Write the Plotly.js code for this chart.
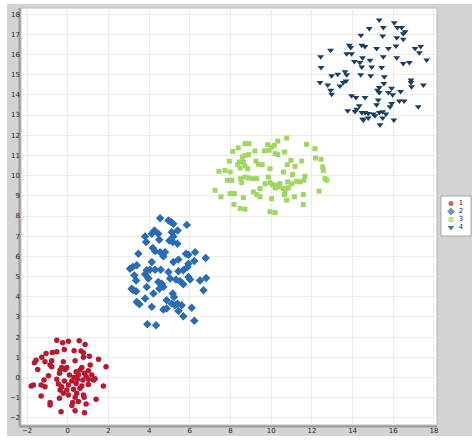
<!DOCTYPE html>
<html>
<head>
<meta charset="utf-8">
<script src="https://cdn.plot.ly/plotly-3.0.1.min.js"></script>
<style>
    html, body { margin: 0; padding: 0; background: #fff; }
    #graf { width: 476px; height: 442px; }
</style>
</head>
<body>
<div id="graf"></div>
<script>
let imena = ["1", "2", "3", "4"];

// skupina 1 - rdeči krogi
let x1 = [-0.54, -0.25, 0.03, 0.56, 0.85, -1.07, -0.76, -0.54, -0.17, 0.31, 0.65, 0.77, 1.06, -1.28, -1.56, -1.64, -1.12, -0.79, -0.22, 0.36, 0.77, 1.51, -0.87, -0.79, -0.30, -0.05, 0.69, 1.10, 1.88, -1.48, -0.38, -0.13, 0.41, 0.60, 1.01, 0.82, -0.95, -0.41, 0.08, 0.31, 0.52, 0.90, 1.18, -1.17, -0.54, -0.17, 0.20, 0.47, 0.74, 1.01, 1.26, 1.34, -1.80, -1.69, -1.31, -1.12, -0.46, -0.30, 0.03, 0.41, 0.69, 1.01, 1.75, -0.38, -0.05, 0.28, 0.60, -0.22, 0.77, 0.44, -1.31, -0.41, 0.03, 0.36, 0.80, 1.39, -0.87, -0.87, 0.24, 0.52, 0.20, 0.90, -0.33, 0.36, 0.82];
let y1 = [1.85, 1.72, 1.80, 1.82, 1.64, 1.19, 1.24, 1.28, 1.39, 1.33, 1.31, 1.23, 1.06, 1.00, 0.86, 0.73, 0.78, 0.83, 0.78, 0.83, 1.00, 0.90, 0.62, 0.54, 0.50, 0.50, 0.50, 0.62, 0.54, 0.40, 0.37, 0.40, 0.29, 0.37, 0.34, 0.21, 0.09, 0.21, 0.12, 0.01, 0.12, 0.07, 0.12, -0.12, -0.09, -0.17, -0.17, -0.09, -0.12, -0.09, -0.12, -0.06, -0.42, -0.37, -0.37, -0.45, -0.32, -0.45, -0.37, -0.29, -0.42, -0.34, -0.42, -0.62, -0.62, -0.58, -0.53, -0.78, -0.86, -0.78, -0.91, -1.03, -0.86, -0.98, -0.98, -1.08, -1.24, -1.36, -1.24, -1.19, -1.39, -1.31, -1.69, -1.65, -1.74];

// skupina 2 - modri karo
let x2 = [4.54, 4.95, 5.08, 5.19, 5.85, 4.26, 4.13, 3.80, 4.45, 5.11, 5.40, 5.19, 3.85, 4.50, 4.99, 5.16, 5.39, 4.18, 4.29, 4.54, 4.78, 3.47, 5.81, 5.93, 6.26, 6.78, 4.70, 5.19, 5.44, 4.13, 6.22, 5.93, 3.06, 3.19, 3.39, 3.88, 4.04, 4.29, 4.57, 4.95, 5.44, 5.68, 5.88, 3.27, 3.80, 3.96, 5.03, 5.32, 5.52, 5.93, 6.01, 6.50, 6.80, 3.36, 3.88, 4.45, 4.62, 4.70, 4.50, 5.68, 3.14, 3.23, 3.36, 4.21, 5.16, 5.22, 6.67, 3.39, 3.52, 3.80, 4.13, 4.86, 5.11, 5.27, 5.39, 5.60, 4.70, 4.86, 6.09, 5.44, 5.68, 6.22, 3.91, 4.34];
let y2 = [7.89, 7.78, 7.70, 7.61, 7.56, 7.28, 7.12, 6.99, 7.12, 7.20, 7.28, 6.99, 6.71, 6.82, 6.78, 6.71, 6.63, 6.41, 6.26, 6.21, 6.21, 6.13, 6.13, 6.08, 6.21, 5.92, 6.00, 5.72, 5.84, 5.72, 5.77, 5.64, 5.39, 5.47, 5.56, 5.31, 5.34, 5.34, 5.34, 5.23, 5.26, 5.31, 5.47, 5.06, 5.11, 4.90, 4.90, 4.85, 4.77, 4.98, 4.85, 4.81, 4.93, 4.81, 4.49, 4.73, 4.65, 4.49, 4.40, 4.62, 4.40, 4.32, 4.27, 4.16, 4.16, 3.99, 4.32, 3.74, 3.63, 3.91, 3.50, 3.83, 3.66, 3.58, 3.66, 3.58, 3.37, 3.42, 3.46, 3.30, 3.04, 2.81, 2.64, 2.59];

// skupina 3 - zeleni kvadrati
let x3 = [8.71, 8.91, 9.83, 10.02, 10.15, 10.32, 10.76, 11.74, 12.15, 8.38, 8.11, 9.20, 9.66, 9.89, 10.19, 10.32, 10.65, 8.71, 8.58, 8.88, 12.18, 12.45, 7.94, 8.43, 8.63, 8.35, 9.25, 9.37, 9.56, 10.97, 11.50, 10.79, 11.17, 8.47, 8.71, 8.84, 9.94, 12.53, 12.56, 7.43, 7.73, 7.98, 10.60, 11.05, 11.66, 12.64, 12.73, 7.84, 8.06, 8.50, 8.71, 8.88, 9.09, 9.29, 9.86, 11.61, 8.55, 9.70, 9.94, 10.06, 10.27, 10.43, 10.81, 11.01, 11.25, 11.42, 7.24, 9.45, 10.19, 10.60, 10.84, 10.68, 10.35, 9.12, 9.29, 9.45, 7.98, 8.19, 7.53, 8.63, 10.02, 10.65, 10.76, 11.14, 11.58, 12.35, 8.17, 8.47, 8.71, 9.94, 10.19, 11.58];
let y3 = [11.58, 11.58, 11.53, 11.41, 11.50, 11.71, 11.86, 11.55, 11.33, 11.37, 11.20, 11.22, 11.22, 11.25, 11.09, 11.04, 11.17, 11.00, 10.92, 11.04, 10.87, 10.81, 10.71, 10.67, 10.67, 10.54, 10.71, 10.56, 10.54, 10.76, 10.72, 10.54, 10.46, 10.38, 10.48, 10.34, 10.34, 10.43, 10.26, 10.21, 10.26, 10.18, 10.18, 10.05, 9.97, 9.85, 9.77, 9.77, 9.77, 9.85, 9.93, 9.88, 9.85, 9.85, 9.93, 9.77, 9.65, 9.60, 9.65, 9.55, 9.52, 9.60, 9.69, 9.60, 9.72, 9.69, 9.27, 9.36, 9.39, 9.36, 9.39, 9.19, 9.44, 9.19, 9.06, 8.95, 9.11, 9.11, 8.95, 8.91, 8.86, 9.06, 8.78, 8.95, 9.06, 9.23, 8.57, 8.37, 8.34, 8.21, 8.17, 8.57];

// skupina 4 - temno modri trikotniki
let x4 = [15.31, 16.05, 15.51, 16.20, 16.41, 14.82, 16.58, 16.49, 14.41, 15.48, 16.17, 16.49, 13.84, 13.91, 14.45, 14.61, 15.18, 15.76, 16.13, 17.07, 17.35, 12.92, 13.71, 13.95, 17.28, 12.43, 14.49, 14.86, 15.51, 16.17, 17.64, 14.09, 14.36, 16.49, 16.79, 12.45, 14.45, 14.94, 15.43, 12.97, 13.27, 13.63, 13.71, 14.40, 14.89, 15.56, 12.40, 12.78, 13.38, 13.54, 13.68, 16.87, 16.87, 16.90, 17.48, 15.31, 15.54, 15.92, 12.92, 12.97, 15.22, 15.31, 15.76, 15.97, 16.36, 13.95, 14.17, 14.61, 15.26, 16.30, 16.53, 14.33, 14.20, 15.18, 15.84, 15.92, 17.23, 13.76, 14.12, 14.45, 14.61, 14.77, 15.02, 15.31, 15.48, 15.64, 14.49, 14.77, 15.10, 15.48, 14.53, 16.03, 15.35];
let y4 = [17.70, 17.57, 17.33, 17.33, 17.33, 17.28, 17.13, 17.03, 16.95, 16.91, 16.83, 16.75, 16.45, 16.34, 16.45, 16.39, 16.29, 16.29, 16.42, 16.29, 16.39, 16.21, 16.04, 16.04, 16.09, 15.88, 15.84, 15.71, 15.88, 15.84, 15.73, 15.65, 15.60, 15.55, 15.60, 15.35, 15.38, 15.38, 15.35, 14.94, 15.02, 15.14, 14.99, 14.99, 14.94, 14.89, 14.61, 14.49, 14.44, 14.61, 14.69, 14.74, 14.61, 14.40, 14.49, 14.36, 14.56, 14.33, 14.23, 14.03, 14.23, 14.12, 14.12, 14.00, 14.17, 13.95, 13.87, 13.87, 13.74, 13.70, 13.70, 13.46, 13.29, 13.51, 13.41, 13.57, 13.41, 13.21, 13.18, 13.13, 13.13, 13.08, 13.05, 13.13, 13.16, 13.05, 12.80, 12.85, 12.96, 12.85, 12.75, 12.75, 12.52];

let xTicks = [-2, 0, 2, 4, 6, 8, 10, 12, 14, 16, 18];
let yTicks = [-2, -1, 0, 1, 2, 3, 4, 5, 6, 7, 8, 9, 10, 11, 12, 13, 14, 15, 16, 17, 18];

let barve = ['#b8192e', '#2a6bb5', '#9fd760', '#1c3d63'];
let simboli = ['circle', 'diamond', 'square', 'triangle-down'];
let velikosti = [5.5, 6.5, 5, 6];

let xs = [x1, x2, x3, x4];
let ys = [y1, y2, y3, y4];

var data = [];
for (let i = 0; i < xs.length; i++) {
    data.push({
        x: xs[i],
        y: ys[i],
        type: 'scatter',
        mode: 'markers',
        name: imena[i],
        marker: { color: barve[i], symbol: simboli[i], size: velikosti[i], line: { width: 0 } }
    });
}

// legenda - majhna os desno od grafa (plotly legenda je previsoka)
let legY = imena.map((_, i) => 7.5 + i * 8);
data.push({
    x: imena.map(() => 10),
    y: legY,
    xaxis: 'x2',
    yaxis: 'y2',
    type: 'scatter',
    mode: 'markers',
    hoverinfo: 'skip',
    marker: { color: barve, symbol: simboli, size: [5, 6, 5, 6], line: { width: 0 } }
});
data.push({
    x: imena.map(() => 20),
    y: legY,
    xaxis: 'x2',
    yaxis: 'y2',
    type: 'scatter',
    mode: 'text',
    text: imena,
    textposition: 'middle center',
    textfont: { size: 7, color: '#222' },
    hoverinfo: 'skip'
});

var layout = {
    width: 476,
    height: 442,
    margin: { l: 21, r: 5, t: 8, b: 17 },
    paper_bgcolor: '#ffffff',
    plot_bgcolor: 'rgba(0,0,0,0)',
    showlegend: false,
    font: { family: 'DejaVu Sans', size: 7, color: '#222' },
    xaxis: {
        domain: [0, 0.92444], range: [-2.3, 18.15], tickvals: xTicks,
        showgrid: true, gridcolor: '#ebebeb', gridwidth: 1,
        zeroline: false, showline: false, ticks: '', fixedrange: true
    },
    yaxis: {
        range: [-2.35, 18.3], tickvals: yTicks,
        showgrid: true, gridcolor: '#ebebeb', gridwidth: 1,
        zeroline: false, showline: false, ticks: '', fixedrange: true
    },
    xaxis2: { domain: [0.93333, 1], range: [0, 30], visible: false, anchor: 'y2', fixedrange: true },
    yaxis2: { domain: [0.45324, 0.54916], range: [40, 0], visible: false, anchor: 'x2', fixedrange: true },
    shapes: [
        // sivo ozadje
        { type: 'rect', xref: 'paper', yref: 'paper', x0: -0.03111, x1: 1.00222, y0: -0.02638, y1: 1.00959,
          fillcolor: '#d3d3d3', line: { width: 0 }, layer: 'below' },
        // belo polje grafa
        { type: 'rect', xref: 'paper', yref: 'paper', x0: 0, x1: 0.92444, y0: 0, y1: 1,
          fillcolor: '#ffffff', line: { color: '#b8b8b8', width: 1 }, layer: 'below' },
        // senca levo in spodaj
        { type: 'line', xref: 'paper', yref: 'paper', x0: -0.0033, x1: -0.0033, y0: -0.0036, y1: 1,
          line: { color: '#999999', width: 2 }, layer: 'below' },
        { type: 'line', xref: 'paper', yref: 'paper', x0: -0.0033, x1: 0.92444, y0: -0.0036, y1: -0.0036,
          line: { color: '#999999', width: 2 }, layer: 'below' },
        // okvir legende
        { type: 'rect', xref: 'paper', yref: 'paper', x0: 0.93333, x1: 1, y0: 0.45324, y1: 0.54916,
          fillcolor: '#ffffff', line: { color: '#a8a8a8', width: 1 }, layer: 'below' }
    ]
};

Plotly.newPlot('graf', data, layout, { displayModeBar: false, staticPlot: true });
</script>
</body>
</html>
